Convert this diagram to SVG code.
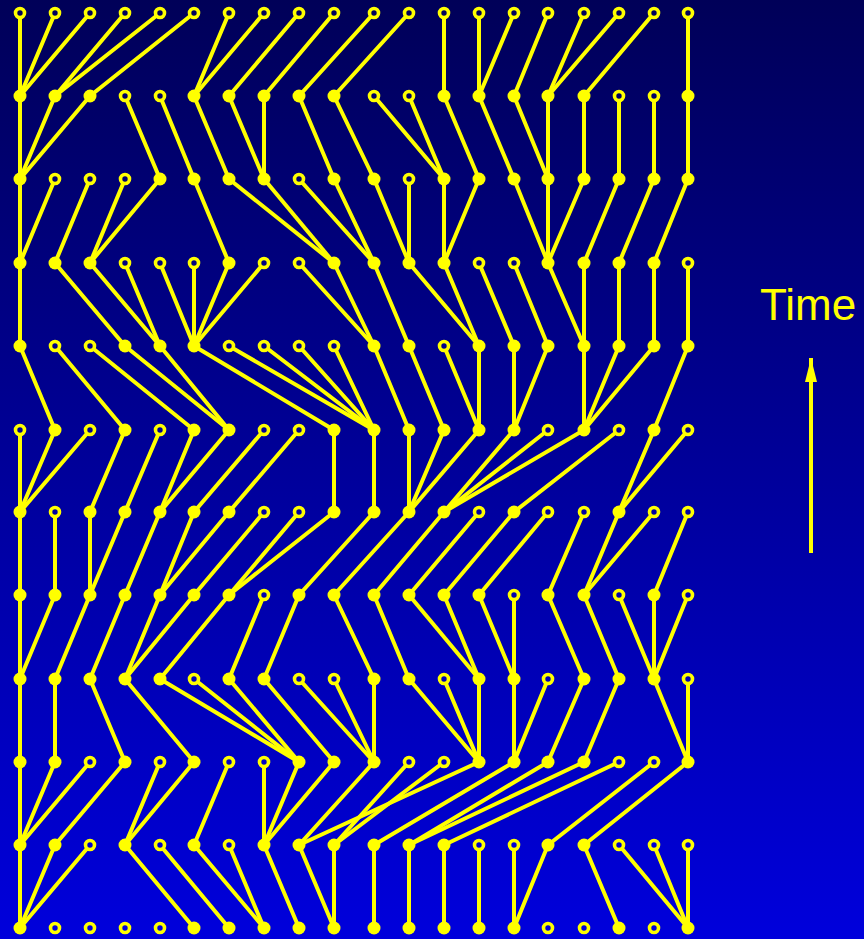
<svg xmlns="http://www.w3.org/2000/svg" width="864" height="939" viewBox="0 0 864 939">
<defs>
<linearGradient id="bg" gradientUnits="userSpaceOnUse" x1="0" y1="0" x2="0" y2="939">
<stop offset="0" stop-color="#000058"/>
<stop offset="1" stop-color="#0000dc"/>
</linearGradient>
<marker id="ah" markerUnits="userSpaceOnUse" markerWidth="24" markerHeight="12" refX="24" refY="6" orient="auto" viewBox="0 0 24 12">
<path d="M0 0 L24 6 L0 12 Z" fill="#ffff00"/>
</marker>
</defs>
<style>
.e line{stroke:#ffff00;stroke-width:4;stroke-linecap:round}
.e line.arrow{stroke-linecap:butt}
.a{fill:url(#bg);stroke:#ffff00;stroke-width:3.6}
.b{fill:#ffff00}
.t{font-family:"Liberation Sans",Arial,sans-serif;font-size:44px;fill:#ffff00}
</style>
<rect x="0" y="0" width="864" height="939" fill="url(#bg)"/>
<g id="connectors" class="e">
<line x1="20" y1="13" x2="20" y2="96"/><line x1="55" y1="13" x2="20" y2="96"/><line x1="90" y1="13" x2="20" y2="96"/><line x1="125" y1="13" x2="55" y2="96"/><line x1="160" y1="13" x2="55" y2="96"/><line x1="194" y1="13" x2="90" y2="96"/><line x1="229" y1="13" x2="194" y2="96"/><line x1="264" y1="13" x2="194" y2="96"/><line x1="299" y1="13" x2="229" y2="96"/><line x1="334" y1="13" x2="264" y2="96"/><line x1="374" y1="13" x2="299" y2="96"/><line x1="409" y1="13" x2="334" y2="96"/><line x1="444" y1="13" x2="444" y2="96"/><line x1="479" y1="13" x2="479" y2="96"/><line x1="514" y1="13" x2="479" y2="96"/><line x1="548" y1="13" x2="514" y2="96"/><line x1="584" y1="13" x2="548" y2="96"/><line x1="619" y1="13" x2="548" y2="96"/><line x1="654" y1="13" x2="584" y2="96"/><line x1="688" y1="13" x2="688" y2="96"/>
<line x1="20" y1="96" x2="20" y2="179"/><line x1="55" y1="96" x2="20" y2="179"/><line x1="90" y1="96" x2="20" y2="179"/><line x1="125" y1="96" x2="160" y2="179"/><line x1="160" y1="96" x2="194" y2="179"/><line x1="194" y1="96" x2="229" y2="179"/><line x1="229" y1="96" x2="264" y2="179"/><line x1="264" y1="96" x2="264" y2="179"/><line x1="299" y1="96" x2="334" y2="179"/><line x1="334" y1="96" x2="374" y2="179"/><line x1="374" y1="96" x2="444" y2="179"/><line x1="409" y1="96" x2="444" y2="179"/><line x1="444" y1="96" x2="479" y2="179"/><line x1="479" y1="96" x2="514" y2="179"/><line x1="514" y1="96" x2="548" y2="179"/><line x1="548" y1="96" x2="548" y2="179"/><line x1="584" y1="96" x2="584" y2="179"/><line x1="619" y1="96" x2="619" y2="179"/><line x1="654" y1="96" x2="654" y2="179"/><line x1="688" y1="96" x2="688" y2="179"/>
<line x1="20" y1="179" x2="20" y2="263"/><line x1="55" y1="179" x2="20" y2="263"/><line x1="90" y1="179" x2="55" y2="263"/><line x1="125" y1="179" x2="90" y2="263"/><line x1="160" y1="179" x2="90" y2="263"/><line x1="194" y1="179" x2="229" y2="263"/><line x1="229" y1="179" x2="334" y2="263"/><line x1="264" y1="179" x2="334" y2="263"/><line x1="299" y1="179" x2="374" y2="263"/><line x1="334" y1="179" x2="374" y2="263"/><line x1="374" y1="179" x2="409" y2="263"/><line x1="409" y1="179" x2="409" y2="263"/><line x1="444" y1="179" x2="444" y2="263"/><line x1="479" y1="179" x2="444" y2="263"/><line x1="514" y1="179" x2="548" y2="263"/><line x1="548" y1="179" x2="548" y2="263"/><line x1="584" y1="179" x2="548" y2="263"/><line x1="619" y1="179" x2="584" y2="263"/><line x1="654" y1="179" x2="619" y2="263"/><line x1="688" y1="179" x2="654" y2="263"/>
<line x1="20" y1="263" x2="20" y2="346"/><line x1="55" y1="263" x2="125" y2="346"/><line x1="90" y1="263" x2="160" y2="346"/><line x1="125" y1="263" x2="160" y2="346"/><line x1="160" y1="263" x2="194" y2="346"/><line x1="194" y1="263" x2="194" y2="346"/><line x1="229" y1="263" x2="194" y2="346"/><line x1="264" y1="263" x2="194" y2="346"/><line x1="299" y1="263" x2="374" y2="346"/><line x1="334" y1="263" x2="374" y2="346"/><line x1="374" y1="263" x2="409" y2="346"/><line x1="409" y1="263" x2="479" y2="346"/><line x1="444" y1="263" x2="479" y2="346"/><line x1="479" y1="263" x2="514" y2="346"/><line x1="514" y1="263" x2="548" y2="346"/><line x1="548" y1="263" x2="584" y2="346"/><line x1="584" y1="263" x2="584" y2="346"/><line x1="619" y1="263" x2="619" y2="346"/><line x1="654" y1="263" x2="654" y2="346"/><line x1="688" y1="263" x2="688" y2="346"/>
<line x1="20" y1="346" x2="55" y2="430"/><line x1="55" y1="346" x2="125" y2="430"/><line x1="90" y1="346" x2="194" y2="430"/><line x1="125" y1="346" x2="229" y2="430"/><line x1="160" y1="346" x2="229" y2="430"/><line x1="194" y1="346" x2="334" y2="430"/><line x1="229" y1="346" x2="374" y2="430"/><line x1="264" y1="346" x2="374" y2="430"/><line x1="299" y1="346" x2="374" y2="430"/><line x1="334" y1="346" x2="374" y2="430"/><line x1="374" y1="346" x2="409" y2="430"/><line x1="409" y1="346" x2="444" y2="430"/><line x1="444" y1="346" x2="479" y2="430"/><line x1="479" y1="346" x2="479" y2="430"/><line x1="514" y1="346" x2="514" y2="430"/><line x1="548" y1="346" x2="514" y2="430"/><line x1="584" y1="346" x2="584" y2="430"/><line x1="619" y1="346" x2="584" y2="430"/><line x1="654" y1="346" x2="584" y2="430"/><line x1="688" y1="346" x2="654" y2="430"/>
<line x1="20" y1="430" x2="20" y2="512"/><line x1="55" y1="430" x2="20" y2="512"/><line x1="90" y1="430" x2="20" y2="512"/><line x1="125" y1="430" x2="90" y2="512"/><line x1="160" y1="430" x2="125" y2="512"/><line x1="194" y1="430" x2="160" y2="512"/><line x1="229" y1="430" x2="160" y2="512"/><line x1="264" y1="430" x2="194" y2="512"/><line x1="299" y1="430" x2="229" y2="512"/><line x1="334" y1="430" x2="334" y2="512"/><line x1="374" y1="430" x2="374" y2="512"/><line x1="409" y1="430" x2="409" y2="512"/><line x1="444" y1="430" x2="409" y2="512"/><line x1="479" y1="430" x2="409" y2="512"/><line x1="514" y1="430" x2="444" y2="512"/><line x1="548" y1="430" x2="444" y2="512"/><line x1="584" y1="430" x2="444" y2="512"/><line x1="619" y1="430" x2="514" y2="512"/><line x1="654" y1="430" x2="619" y2="512"/><line x1="688" y1="430" x2="619" y2="512"/>
<line x1="20" y1="512" x2="20" y2="595"/><line x1="55" y1="512" x2="55" y2="595"/><line x1="90" y1="512" x2="90" y2="595"/><line x1="125" y1="512" x2="90" y2="595"/><line x1="160" y1="512" x2="125" y2="595"/><line x1="194" y1="512" x2="160" y2="595"/><line x1="229" y1="512" x2="160" y2="595"/><line x1="264" y1="512" x2="194" y2="595"/><line x1="299" y1="512" x2="229" y2="595"/><line x1="334" y1="512" x2="229" y2="595"/><line x1="374" y1="512" x2="299" y2="595"/><line x1="409" y1="512" x2="334" y2="595"/><line x1="444" y1="512" x2="374" y2="595"/><line x1="479" y1="512" x2="409" y2="595"/><line x1="514" y1="512" x2="444" y2="595"/><line x1="548" y1="512" x2="479" y2="595"/><line x1="584" y1="512" x2="548" y2="595"/><line x1="619" y1="512" x2="584" y2="595"/><line x1="654" y1="512" x2="584" y2="595"/><line x1="688" y1="512" x2="654" y2="595"/>
<line x1="20" y1="595" x2="20" y2="679"/><line x1="55" y1="595" x2="20" y2="679"/><line x1="90" y1="595" x2="55" y2="679"/><line x1="125" y1="595" x2="90" y2="679"/><line x1="160" y1="595" x2="125" y2="679"/><line x1="194" y1="595" x2="125" y2="679"/><line x1="229" y1="595" x2="160" y2="679"/><line x1="264" y1="595" x2="229" y2="679"/><line x1="299" y1="595" x2="264" y2="679"/><line x1="334" y1="595" x2="374" y2="679"/><line x1="374" y1="595" x2="409" y2="679"/><line x1="409" y1="595" x2="479" y2="679"/><line x1="444" y1="595" x2="479" y2="679"/><line x1="479" y1="595" x2="514" y2="679"/><line x1="514" y1="595" x2="514" y2="679"/><line x1="548" y1="595" x2="584" y2="679"/><line x1="584" y1="595" x2="619" y2="679"/><line x1="619" y1="595" x2="654" y2="679"/><line x1="654" y1="595" x2="654" y2="679"/><line x1="688" y1="595" x2="654" y2="679"/>
<line x1="20" y1="679" x2="20" y2="762"/><line x1="55" y1="679" x2="55" y2="762"/><line x1="90" y1="679" x2="125" y2="762"/><line x1="125" y1="679" x2="194" y2="762"/><line x1="160" y1="679" x2="299" y2="762"/><line x1="194" y1="679" x2="299" y2="762"/><line x1="229" y1="679" x2="299" y2="762"/><line x1="264" y1="679" x2="334" y2="762"/><line x1="299" y1="679" x2="374" y2="762"/><line x1="334" y1="679" x2="374" y2="762"/><line x1="374" y1="679" x2="374" y2="762"/><line x1="409" y1="679" x2="479" y2="762"/><line x1="444" y1="679" x2="479" y2="762"/><line x1="479" y1="679" x2="479" y2="762"/><line x1="514" y1="679" x2="514" y2="762"/><line x1="548" y1="679" x2="514" y2="762"/><line x1="584" y1="679" x2="548" y2="762"/><line x1="619" y1="679" x2="584" y2="762"/><line x1="654" y1="679" x2="688" y2="762"/><line x1="688" y1="679" x2="688" y2="762"/>
<line x1="20" y1="762" x2="20" y2="845"/><line x1="55" y1="762" x2="20" y2="845"/><line x1="90" y1="762" x2="20" y2="845"/><line x1="125" y1="762" x2="55" y2="845"/><line x1="160" y1="762" x2="125" y2="845"/><line x1="194" y1="762" x2="125" y2="845"/><line x1="229" y1="762" x2="194" y2="845"/><line x1="264" y1="762" x2="264" y2="845"/><line x1="299" y1="762" x2="264" y2="845"/><line x1="334" y1="762" x2="264" y2="845"/><line x1="374" y1="762" x2="299" y2="845"/><line x1="409" y1="762" x2="334" y2="845"/><line x1="444" y1="762" x2="334" y2="845"/><line x1="479" y1="762" x2="299" y2="845"/><line x1="514" y1="762" x2="374" y2="845"/><line x1="548" y1="762" x2="409" y2="845"/><line x1="584" y1="762" x2="409" y2="845"/><line x1="619" y1="762" x2="444" y2="845"/><line x1="654" y1="762" x2="548" y2="845"/><line x1="688" y1="762" x2="584" y2="845"/>
<line x1="20" y1="845" x2="20" y2="928"/><line x1="55" y1="845" x2="20" y2="928"/><line x1="90" y1="845" x2="20" y2="928"/><line x1="125" y1="845" x2="194" y2="928"/><line x1="160" y1="845" x2="229" y2="928"/><line x1="194" y1="845" x2="264" y2="928"/><line x1="229" y1="845" x2="264" y2="928"/><line x1="264" y1="845" x2="299" y2="928"/><line x1="299" y1="845" x2="334" y2="928"/><line x1="334" y1="845" x2="334" y2="928"/><line x1="374" y1="845" x2="374" y2="928"/><line x1="409" y1="845" x2="409" y2="928"/><line x1="444" y1="845" x2="444" y2="928"/><line x1="479" y1="845" x2="479" y2="928"/><line x1="514" y1="845" x2="514" y2="928"/><line x1="548" y1="845" x2="514" y2="928"/><line x1="584" y1="845" x2="619" y2="928"/><line x1="619" y1="845" x2="688" y2="928"/><line x1="654" y1="845" x2="688" y2="928"/><line x1="688" y1="845" x2="688" y2="928"/>
<line class="arrow" x1="811" y1="553" x2="811" y2="358" marker-end="url(#ah)"/>
</g>
<g id="nodes">
<g id="n0-0"><circle class="a" cx="20" cy="13" r="4.5"/></g><g id="n0-1"><circle class="a" cx="55" cy="13" r="4.5"/></g><g id="n0-2"><circle class="a" cx="90" cy="13" r="4.5"/></g><g id="n0-3"><circle class="a" cx="125" cy="13" r="4.5"/></g><g id="n0-4"><circle class="a" cx="160" cy="13" r="4.5"/></g><g id="n0-5"><circle class="a" cx="194" cy="13" r="4.5"/></g><g id="n0-6"><circle class="a" cx="229" cy="13" r="4.5"/></g><g id="n0-7"><circle class="a" cx="264" cy="13" r="4.5"/></g><g id="n0-8"><circle class="a" cx="299" cy="13" r="4.5"/></g><g id="n0-9"><circle class="a" cx="334" cy="13" r="4.5"/></g><g id="n0-10"><circle class="a" cx="374" cy="13" r="4.5"/></g><g id="n0-11"><circle class="a" cx="409" cy="13" r="4.5"/></g><g id="n0-12"><circle class="a" cx="444" cy="13" r="4.5"/></g><g id="n0-13"><circle class="a" cx="479" cy="13" r="4.5"/></g><g id="n0-14"><circle class="a" cx="514" cy="13" r="4.5"/></g><g id="n0-15"><circle class="a" cx="548" cy="13" r="4.5"/></g><g id="n0-16"><circle class="a" cx="584" cy="13" r="4.5"/></g><g id="n0-17"><circle class="a" cx="619" cy="13" r="4.5"/></g><g id="n0-18"><circle class="a" cx="654" cy="13" r="4.5"/></g><g id="n0-19"><circle class="a" cx="688" cy="13" r="4.5"/></g>
<g id="n1-0"><circle class="b" cx="20" cy="96" r="6.5"/></g><g id="n1-1"><circle class="b" cx="55" cy="96" r="6.5"/></g><g id="n1-2"><circle class="b" cx="90" cy="96" r="6.5"/></g><g id="n1-3"><circle class="a" cx="125" cy="96" r="4.5"/></g><g id="n1-4"><circle class="a" cx="160" cy="96" r="4.5"/></g><g id="n1-5"><circle class="b" cx="194" cy="96" r="6.5"/></g><g id="n1-6"><circle class="b" cx="229" cy="96" r="6.5"/></g><g id="n1-7"><circle class="b" cx="264" cy="96" r="6.5"/></g><g id="n1-8"><circle class="b" cx="299" cy="96" r="6.5"/></g><g id="n1-9"><circle class="b" cx="334" cy="96" r="6.5"/></g><g id="n1-10"><circle class="a" cx="374" cy="96" r="4.5"/></g><g id="n1-11"><circle class="a" cx="409" cy="96" r="4.5"/></g><g id="n1-12"><circle class="b" cx="444" cy="96" r="6.5"/></g><g id="n1-13"><circle class="b" cx="479" cy="96" r="6.5"/></g><g id="n1-14"><circle class="b" cx="514" cy="96" r="6.5"/></g><g id="n1-15"><circle class="b" cx="548" cy="96" r="6.5"/></g><g id="n1-16"><circle class="b" cx="584" cy="96" r="6.5"/></g><g id="n1-17"><circle class="a" cx="619" cy="96" r="4.5"/></g><g id="n1-18"><circle class="a" cx="654" cy="96" r="4.5"/></g><g id="n1-19"><circle class="b" cx="688" cy="96" r="6.5"/></g>
<g id="n2-0"><circle class="b" cx="20" cy="179" r="6.5"/></g><g id="n2-1"><circle class="a" cx="55" cy="179" r="4.5"/></g><g id="n2-2"><circle class="a" cx="90" cy="179" r="4.5"/></g><g id="n2-3"><circle class="a" cx="125" cy="179" r="4.5"/></g><g id="n2-4"><circle class="b" cx="160" cy="179" r="6.5"/></g><g id="n2-5"><circle class="b" cx="194" cy="179" r="6.5"/></g><g id="n2-6"><circle class="b" cx="229" cy="179" r="6.5"/></g><g id="n2-7"><circle class="b" cx="264" cy="179" r="6.5"/></g><g id="n2-8"><circle class="a" cx="299" cy="179" r="4.5"/></g><g id="n2-9"><circle class="b" cx="334" cy="179" r="6.5"/></g><g id="n2-10"><circle class="b" cx="374" cy="179" r="6.5"/></g><g id="n2-11"><circle class="a" cx="409" cy="179" r="4.5"/></g><g id="n2-12"><circle class="b" cx="444" cy="179" r="6.5"/></g><g id="n2-13"><circle class="b" cx="479" cy="179" r="6.5"/></g><g id="n2-14"><circle class="b" cx="514" cy="179" r="6.5"/></g><g id="n2-15"><circle class="b" cx="548" cy="179" r="6.5"/></g><g id="n2-16"><circle class="b" cx="584" cy="179" r="6.5"/></g><g id="n2-17"><circle class="b" cx="619" cy="179" r="6.5"/></g><g id="n2-18"><circle class="b" cx="654" cy="179" r="6.5"/></g><g id="n2-19"><circle class="b" cx="688" cy="179" r="6.5"/></g>
<g id="n3-0"><circle class="b" cx="20" cy="263" r="6.5"/></g><g id="n3-1"><circle class="b" cx="55" cy="263" r="6.5"/></g><g id="n3-2"><circle class="b" cx="90" cy="263" r="6.5"/></g><g id="n3-3"><circle class="a" cx="125" cy="263" r="4.5"/></g><g id="n3-4"><circle class="a" cx="160" cy="263" r="4.5"/></g><g id="n3-5"><circle class="a" cx="194" cy="263" r="4.5"/></g><g id="n3-6"><circle class="b" cx="229" cy="263" r="6.5"/></g><g id="n3-7"><circle class="a" cx="264" cy="263" r="4.5"/></g><g id="n3-8"><circle class="a" cx="299" cy="263" r="4.5"/></g><g id="n3-9"><circle class="b" cx="334" cy="263" r="6.5"/></g><g id="n3-10"><circle class="b" cx="374" cy="263" r="6.5"/></g><g id="n3-11"><circle class="b" cx="409" cy="263" r="6.5"/></g><g id="n3-12"><circle class="b" cx="444" cy="263" r="6.5"/></g><g id="n3-13"><circle class="a" cx="479" cy="263" r="4.5"/></g><g id="n3-14"><circle class="a" cx="514" cy="263" r="4.5"/></g><g id="n3-15"><circle class="b" cx="548" cy="263" r="6.5"/></g><g id="n3-16"><circle class="b" cx="584" cy="263" r="6.5"/></g><g id="n3-17"><circle class="b" cx="619" cy="263" r="6.5"/></g><g id="n3-18"><circle class="b" cx="654" cy="263" r="6.5"/></g><g id="n3-19"><circle class="a" cx="688" cy="263" r="4.5"/></g>
<g id="n4-0"><circle class="b" cx="20" cy="346" r="6.5"/></g><g id="n4-1"><circle class="a" cx="55" cy="346" r="4.5"/></g><g id="n4-2"><circle class="a" cx="90" cy="346" r="4.5"/></g><g id="n4-3"><circle class="b" cx="125" cy="346" r="6.5"/></g><g id="n4-4"><circle class="b" cx="160" cy="346" r="6.5"/></g><g id="n4-5"><circle class="b" cx="194" cy="346" r="6.5"/></g><g id="n4-6"><circle class="a" cx="229" cy="346" r="4.5"/></g><g id="n4-7"><circle class="a" cx="264" cy="346" r="4.5"/></g><g id="n4-8"><circle class="a" cx="299" cy="346" r="4.5"/></g><g id="n4-9"><circle class="a" cx="334" cy="346" r="4.5"/></g><g id="n4-10"><circle class="b" cx="374" cy="346" r="6.5"/></g><g id="n4-11"><circle class="b" cx="409" cy="346" r="6.5"/></g><g id="n4-12"><circle class="a" cx="444" cy="346" r="4.5"/></g><g id="n4-13"><circle class="b" cx="479" cy="346" r="6.5"/></g><g id="n4-14"><circle class="b" cx="514" cy="346" r="6.5"/></g><g id="n4-15"><circle class="b" cx="548" cy="346" r="6.5"/></g><g id="n4-16"><circle class="b" cx="584" cy="346" r="6.5"/></g><g id="n4-17"><circle class="b" cx="619" cy="346" r="6.5"/></g><g id="n4-18"><circle class="b" cx="654" cy="346" r="6.5"/></g><g id="n4-19"><circle class="b" cx="688" cy="346" r="6.5"/></g>
<g id="n5-0"><circle class="a" cx="20" cy="430" r="4.5"/></g><g id="n5-1"><circle class="b" cx="55" cy="430" r="6.5"/></g><g id="n5-2"><circle class="a" cx="90" cy="430" r="4.5"/></g><g id="n5-3"><circle class="b" cx="125" cy="430" r="6.5"/></g><g id="n5-4"><circle class="a" cx="160" cy="430" r="4.5"/></g><g id="n5-5"><circle class="b" cx="194" cy="430" r="6.5"/></g><g id="n5-6"><circle class="b" cx="229" cy="430" r="6.5"/></g><g id="n5-7"><circle class="a" cx="264" cy="430" r="4.5"/></g><g id="n5-8"><circle class="a" cx="299" cy="430" r="4.5"/></g><g id="n5-9"><circle class="b" cx="334" cy="430" r="6.5"/></g><g id="n5-10"><circle class="b" cx="374" cy="430" r="6.5"/></g><g id="n5-11"><circle class="b" cx="409" cy="430" r="6.5"/></g><g id="n5-12"><circle class="b" cx="444" cy="430" r="6.5"/></g><g id="n5-13"><circle class="b" cx="479" cy="430" r="6.5"/></g><g id="n5-14"><circle class="b" cx="514" cy="430" r="6.5"/></g><g id="n5-15"><circle class="a" cx="548" cy="430" r="4.5"/></g><g id="n5-16"><circle class="b" cx="584" cy="430" r="6.5"/></g><g id="n5-17"><circle class="a" cx="619" cy="430" r="4.5"/></g><g id="n5-18"><circle class="b" cx="654" cy="430" r="6.5"/></g><g id="n5-19"><circle class="a" cx="688" cy="430" r="4.5"/></g>
<g id="n6-0"><circle class="b" cx="20" cy="512" r="6.5"/></g><g id="n6-1"><circle class="a" cx="55" cy="512" r="4.5"/></g><g id="n6-2"><circle class="b" cx="90" cy="512" r="6.5"/></g><g id="n6-3"><circle class="b" cx="125" cy="512" r="6.5"/></g><g id="n6-4"><circle class="b" cx="160" cy="512" r="6.5"/></g><g id="n6-5"><circle class="b" cx="194" cy="512" r="6.5"/></g><g id="n6-6"><circle class="b" cx="229" cy="512" r="6.5"/></g><g id="n6-7"><circle class="a" cx="264" cy="512" r="4.5"/></g><g id="n6-8"><circle class="a" cx="299" cy="512" r="4.5"/></g><g id="n6-9"><circle class="b" cx="334" cy="512" r="6.5"/></g><g id="n6-10"><circle class="b" cx="374" cy="512" r="6.5"/></g><g id="n6-11"><circle class="b" cx="409" cy="512" r="6.5"/></g><g id="n6-12"><circle class="b" cx="444" cy="512" r="6.5"/></g><g id="n6-13"><circle class="a" cx="479" cy="512" r="4.5"/></g><g id="n6-14"><circle class="b" cx="514" cy="512" r="6.5"/></g><g id="n6-15"><circle class="a" cx="548" cy="512" r="4.5"/></g><g id="n6-16"><circle class="a" cx="584" cy="512" r="4.5"/></g><g id="n6-17"><circle class="b" cx="619" cy="512" r="6.5"/></g><g id="n6-18"><circle class="a" cx="654" cy="512" r="4.5"/></g><g id="n6-19"><circle class="a" cx="688" cy="512" r="4.5"/></g>
<g id="n7-0"><circle class="b" cx="20" cy="595" r="6.5"/></g><g id="n7-1"><circle class="b" cx="55" cy="595" r="6.5"/></g><g id="n7-2"><circle class="b" cx="90" cy="595" r="6.5"/></g><g id="n7-3"><circle class="b" cx="125" cy="595" r="6.5"/></g><g id="n7-4"><circle class="b" cx="160" cy="595" r="6.5"/></g><g id="n7-5"><circle class="b" cx="194" cy="595" r="6.5"/></g><g id="n7-6"><circle class="b" cx="229" cy="595" r="6.5"/></g><g id="n7-7"><circle class="a" cx="264" cy="595" r="4.5"/></g><g id="n7-8"><circle class="b" cx="299" cy="595" r="6.5"/></g><g id="n7-9"><circle class="b" cx="334" cy="595" r="6.5"/></g><g id="n7-10"><circle class="b" cx="374" cy="595" r="6.5"/></g><g id="n7-11"><circle class="b" cx="409" cy="595" r="6.5"/></g><g id="n7-12"><circle class="b" cx="444" cy="595" r="6.5"/></g><g id="n7-13"><circle class="b" cx="479" cy="595" r="6.5"/></g><g id="n7-14"><circle class="a" cx="514" cy="595" r="4.5"/></g><g id="n7-15"><circle class="b" cx="548" cy="595" r="6.5"/></g><g id="n7-16"><circle class="b" cx="584" cy="595" r="6.5"/></g><g id="n7-17"><circle class="a" cx="619" cy="595" r="4.5"/></g><g id="n7-18"><circle class="b" cx="654" cy="595" r="6.5"/></g><g id="n7-19"><circle class="a" cx="688" cy="595" r="4.5"/></g>
<g id="n8-0"><circle class="b" cx="20" cy="679" r="6.5"/></g><g id="n8-1"><circle class="b" cx="55" cy="679" r="6.5"/></g><g id="n8-2"><circle class="b" cx="90" cy="679" r="6.5"/></g><g id="n8-3"><circle class="b" cx="125" cy="679" r="6.5"/></g><g id="n8-4"><circle class="b" cx="160" cy="679" r="6.5"/></g><g id="n8-5"><circle class="a" cx="194" cy="679" r="4.5"/></g><g id="n8-6"><circle class="b" cx="229" cy="679" r="6.5"/></g><g id="n8-7"><circle class="b" cx="264" cy="679" r="6.5"/></g><g id="n8-8"><circle class="a" cx="299" cy="679" r="4.5"/></g><g id="n8-9"><circle class="a" cx="334" cy="679" r="4.5"/></g><g id="n8-10"><circle class="b" cx="374" cy="679" r="6.5"/></g><g id="n8-11"><circle class="b" cx="409" cy="679" r="6.5"/></g><g id="n8-12"><circle class="a" cx="444" cy="679" r="4.5"/></g><g id="n8-13"><circle class="b" cx="479" cy="679" r="6.5"/></g><g id="n8-14"><circle class="b" cx="514" cy="679" r="6.5"/></g><g id="n8-15"><circle class="a" cx="548" cy="679" r="4.5"/></g><g id="n8-16"><circle class="b" cx="584" cy="679" r="6.5"/></g><g id="n8-17"><circle class="b" cx="619" cy="679" r="6.5"/></g><g id="n8-18"><circle class="b" cx="654" cy="679" r="6.5"/></g><g id="n8-19"><circle class="a" cx="688" cy="679" r="4.5"/></g>
<g id="n9-0"><circle class="b" cx="20" cy="762" r="6.5"/></g><g id="n9-1"><circle class="b" cx="55" cy="762" r="6.5"/></g><g id="n9-2"><circle class="a" cx="90" cy="762" r="4.5"/></g><g id="n9-3"><circle class="b" cx="125" cy="762" r="6.5"/></g><g id="n9-4"><circle class="a" cx="160" cy="762" r="4.5"/></g><g id="n9-5"><circle class="b" cx="194" cy="762" r="6.5"/></g><g id="n9-6"><circle class="a" cx="229" cy="762" r="4.5"/></g><g id="n9-7"><circle class="a" cx="264" cy="762" r="4.5"/></g><g id="n9-8"><circle class="b" cx="299" cy="762" r="6.5"/></g><g id="n9-9"><circle class="b" cx="334" cy="762" r="6.5"/></g><g id="n9-10"><circle class="b" cx="374" cy="762" r="6.5"/></g><g id="n9-11"><circle class="a" cx="409" cy="762" r="4.5"/></g><g id="n9-12"><circle class="a" cx="444" cy="762" r="4.5"/></g><g id="n9-13"><circle class="b" cx="479" cy="762" r="6.5"/></g><g id="n9-14"><circle class="b" cx="514" cy="762" r="6.5"/></g><g id="n9-15"><circle class="b" cx="548" cy="762" r="6.5"/></g><g id="n9-16"><circle class="b" cx="584" cy="762" r="6.5"/></g><g id="n9-17"><circle class="a" cx="619" cy="762" r="4.5"/></g><g id="n9-18"><circle class="a" cx="654" cy="762" r="4.5"/></g><g id="n9-19"><circle class="b" cx="688" cy="762" r="6.5"/></g>
<g id="n10-0"><circle class="b" cx="20" cy="845" r="6.5"/></g><g id="n10-1"><circle class="b" cx="55" cy="845" r="6.5"/></g><g id="n10-2"><circle class="a" cx="90" cy="845" r="4.5"/></g><g id="n10-3"><circle class="b" cx="125" cy="845" r="6.5"/></g><g id="n10-4"><circle class="a" cx="160" cy="845" r="4.5"/></g><g id="n10-5"><circle class="b" cx="194" cy="845" r="6.5"/></g><g id="n10-6"><circle class="a" cx="229" cy="845" r="4.5"/></g><g id="n10-7"><circle class="b" cx="264" cy="845" r="6.5"/></g><g id="n10-8"><circle class="b" cx="299" cy="845" r="6.5"/></g><g id="n10-9"><circle class="b" cx="334" cy="845" r="6.5"/></g><g id="n10-10"><circle class="b" cx="374" cy="845" r="6.5"/></g><g id="n10-11"><circle class="b" cx="409" cy="845" r="6.5"/></g><g id="n10-12"><circle class="b" cx="444" cy="845" r="6.5"/></g><g id="n10-13"><circle class="a" cx="479" cy="845" r="4.5"/></g><g id="n10-14"><circle class="a" cx="514" cy="845" r="4.5"/></g><g id="n10-15"><circle class="b" cx="548" cy="845" r="6.5"/></g><g id="n10-16"><circle class="b" cx="584" cy="845" r="6.5"/></g><g id="n10-17"><circle class="a" cx="619" cy="845" r="4.5"/></g><g id="n10-18"><circle class="a" cx="654" cy="845" r="4.5"/></g><g id="n10-19"><circle class="a" cx="688" cy="845" r="4.5"/></g>
<g id="n11-0"><circle class="b" cx="20" cy="928" r="6.5"/></g><g id="n11-1"><circle class="a" cx="55" cy="928" r="4.5"/></g><g id="n11-2"><circle class="a" cx="90" cy="928" r="4.5"/></g><g id="n11-3"><circle class="a" cx="125" cy="928" r="4.5"/></g><g id="n11-4"><circle class="a" cx="160" cy="928" r="4.5"/></g><g id="n11-5"><circle class="b" cx="194" cy="928" r="6.5"/></g><g id="n11-6"><circle class="b" cx="229" cy="928" r="6.5"/></g><g id="n11-7"><circle class="b" cx="264" cy="928" r="6.5"/></g><g id="n11-8"><circle class="b" cx="299" cy="928" r="6.5"/></g><g id="n11-9"><circle class="b" cx="334" cy="928" r="6.5"/></g><g id="n11-10"><circle class="b" cx="374" cy="928" r="6.5"/></g><g id="n11-11"><circle class="b" cx="409" cy="928" r="6.5"/></g><g id="n11-12"><circle class="b" cx="444" cy="928" r="6.5"/></g><g id="n11-13"><circle class="b" cx="479" cy="928" r="6.5"/></g><g id="n11-14"><circle class="b" cx="514" cy="928" r="6.5"/></g><g id="n11-15"><circle class="a" cx="548" cy="928" r="4.5"/></g><g id="n11-16"><circle class="a" cx="584" cy="928" r="4.5"/></g><g id="n11-17"><circle class="b" cx="619" cy="928" r="6.5"/></g><g id="n11-18"><circle class="a" cx="654" cy="928" r="4.5"/></g><g id="n11-19"><circle class="b" cx="688" cy="928" r="6.5"/></g>
</g>
<g id="label"><text class="t" x="760" y="320">Time</text></g>
</svg>
